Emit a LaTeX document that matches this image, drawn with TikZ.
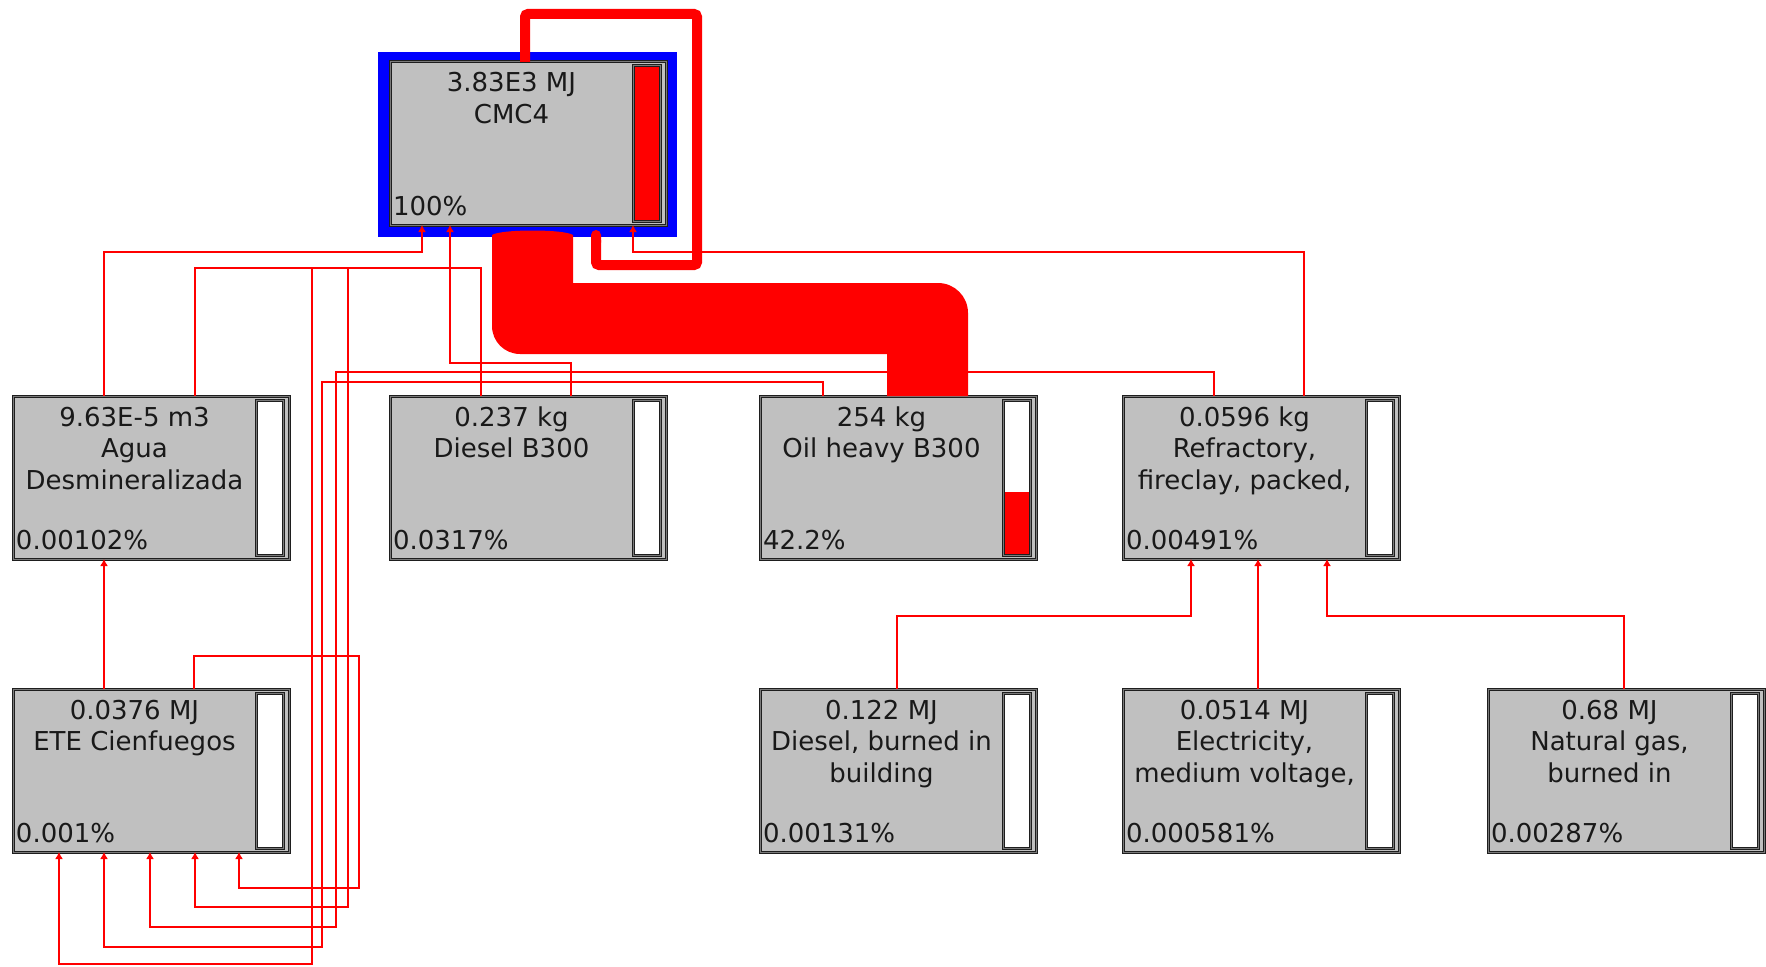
\documentclass[tikz,border=0pt]{standalone}
\usepackage{fontspec}
\setmainfont{DejaVu Sans}
\usetikzlibrary{arrows.meta,calc}
\definecolor{boxgray}{HTML}{C0C0C0}
\definecolor{sred}{HTML}{FF0000}
\definecolor{sblue}{HTML}{0000FF}
\definecolor{edgec}{HTML}{1E1E1E}
\definecolor{midc}{HTML}{7A7A7A}
\tikzset{
  proc/.style={draw=edgec, line width=1pt, double=midc, double distance=1pt, fill=boxgray,
    minimum width=276pt, minimum height=163pt, inner sep=0pt, outer sep=0pt, anchor=north west},
  gauge/.style={draw=edgec, line width=1pt, double=midc, double distance=1pt, fill=white,
    minimum width=27pt, minimum height=155pt, inner sep=0pt, outer sep=0pt, anchor=north east},
  txt/.style={font=\fontsize{26pt}{31pt}\selectfont, inner sep=0pt, outer sep=0pt, text=black!90},
  flow/.style={draw=sred, line width=2pt, -{Latex[length=7pt,width=8pt]}},
}
\newcommand\mkbox[4][]{%
  \node[proc] (#2) at (#3,#4) {};
  \node[gauge,#1] (#2-bar) at ([xshift=-6pt,yshift=-4pt]#2.north east) {};
}
\newcommand\mkline[4]{%
  \node[txt, anchor=base] (#1-l#2) at ([xshift=121.5pt,yshift=-#3pt]#1.north west) {#4};
}
\newcommand\mkpct[2]{%
  \node[txt, anchor=base west] (#1-pct) at ([xshift=3pt,yshift=-153pt]#1.north west) {#2};
}
\begin{document}
\begin{tikzpicture}[x=1pt,y=-1pt]
\useasboundingbox (0,0) rectangle (1766,966);
\fill[white] (0,0) rectangle (1766,966);

% CMC4 highlighted frame
\node[fill=sblue, minimum width=299pt, minimum height=185pt, inner sep=0pt, outer sep=0pt, anchor=north west] (cmcframe) at (378,52) {};

% boxes
\mkbox[fill=sred]{cmc}{390}{62}
\mkbox{agua}{13}{396}
\mkbox{diesel}{390}{396}
\mkbox{oil}{760}{396}
\mkbox{refr}{1123}{396}
\mkbox{ete}{13}{689}
\mkbox{dburn}{760}{689}
\mkbox{elec}{1123}{689}
\mkbox{ngas}{1488}{689}

% oil gauge level
\node[fill=sred, minimum width=24pt, minimum height=62pt, inner sep=0pt, outer sep=0pt, anchor=south] (oil-level) at ([yshift=1.5pt]oil-bar.south) {};

% texts
\mkline{cmc}{1}{30}{3.83E3 MJ}
\mkline{cmc}{2}{61.5}{CMC4}
\mkpct{cmc}{100\%}

\mkline{agua}{1}{30}{9.63E-5 m3}
\mkline{agua}{2}{61.5}{Agua}
\mkline{agua}{3}{93}{Desmineralizada}
\mkpct{agua}{0.00102\%}

\mkline{diesel}{1}{30}{0.237 kg}
\mkline{diesel}{2}{61.5}{Diesel B300}
\mkpct{diesel}{0.0317\%}

\mkline{oil}{1}{30}{254 kg}
\mkline{oil}{2}{61.5}{Oil heavy B300}
\mkpct{oil}{42.2\%}

\mkline{refr}{1}{30}{0.0596 kg}
\mkline{refr}{2}{61.5}{Refractory,}
\mkline{refr}{3}{93}{fireclay, packed,}
\mkpct{refr}{0.00491\%}

\mkline{ete}{1}{30}{0.0376 MJ}
\mkline{ete}{2}{61.5}{ETE Cienfuegos}
\mkpct{ete}{0.001\%}

\mkline{dburn}{1}{30}{0.122 MJ}
\mkline{dburn}{2}{61.5}{Diesel, burned in}
\mkline{dburn}{3}{93}{building}
\mkpct{dburn}{0.00131\%}

\mkline{elec}{1}{30}{0.0514 MJ}
\mkline{elec}{2}{61.5}{Electricity,}
\mkline{elec}{3}{93}{medium voltage,}
\mkpct{elec}{0.000581\%}

\mkline{ngas}{1}{30}{0.68 MJ}
\mkline{ngas}{2}{61.5}{Natural gas,}
\mkline{ngas}{3}{93}{burned in}
\mkpct{ngas}{0.00287\%}

% thin connectors
\draw[flow] ([xshift=91pt]agua.north west) -- ++(0,-144) -| ([xshift=32pt]cmc.south west);
\draw[flow] ([xshift=181pt]diesel.north west) -- ++(0,-33) -| ([xshift=60pt]cmc.south west);
\draw[flow] ([xshift=181pt]refr.north west) -- ++(0,-144) -| ([xshift=243pt]cmc.south west);
\draw[flow] ([xshift=91pt]ete.north west) -- ([xshift=91pt]agua.south west);
\draw[flow] ([xshift=181pt]ete.north west) -- ++(0,-33) -- ++(165,0) -- ++(0,232) -| ([xshift=226pt]ete.south west);
\draw[flow] ([xshift=182pt]agua.north west) -- ++(0,-128) -- ++(153,0) -- ++(0,639) -| ([xshift=182pt]ete.south west);
\draw[flow] ([xshift=91pt]diesel.north west) -- ++(0,-128) -- ++(-169,0) -- ++(0,696) -| ([xshift=46pt]ete.south west);
\draw[flow] ([xshift=91pt]refr.north west) -- ++(0,-24) -- ++(-878,0) -- ++(0,555) -| ([xshift=137pt]ete.south west);
\draw[flow] ([xshift=63pt]oil.north west) -- ++(0,-14) -- ++(-501,0) -- ++(0,565) -| ([xshift=91pt]ete.south west);
\draw[flow] ([xshift=137pt]dburn.north west) -- ++(0,-73) -| ([xshift=68pt]refr.south west);
\draw[flow] ([xshift=135pt]elec.north west) -- ([xshift=135pt]refr.south west);
\draw[flow] ([xshift=136pt]ngas.north west) -- ++(0,-73) -| ([xshift=204pt]refr.south west);

% big flow oil -> CMC4
\coordinate (bf) at ([xshift=102pt,yshift=-10pt]cmc.south west);
\fill[sred] (bf) -- ($(bf)+(0,91)$)
  .. controls ($(bf)+(0,106.5)$) and ($(bf)+(12.5,119)$) .. ($(bf)+(28,119)$)
  -- ($(bf)+(395,119)$) -- ([xshift=127pt]oil.north west) -- ([xshift=208pt]oil.north west)
  -- ($(bf)+(476,78)$)
  .. controls ($(bf)+(476,61.4)$) and ($(bf)+(462.6,48)$) .. ($(bf)+(446,48)$)
  -- ($(bf)+(81,48)$) -- ($(bf)+(81,0)$)
  .. controls ($(bf)+(72,-6)$) and ($(bf)+(9,-6)$) .. (bf) -- cycle;

% CMC4 self loop
\draw[sred, line width=10pt, rounded corners=3pt, -{Round Cap}] ([xshift=135pt]cmc.north west) -- ++(0,-48) -- ++(172,0) -- ++(0,251) -| ([xshift=206pt,yshift=-5pt]cmc.south west);
\end{tikzpicture}
\end{document}
